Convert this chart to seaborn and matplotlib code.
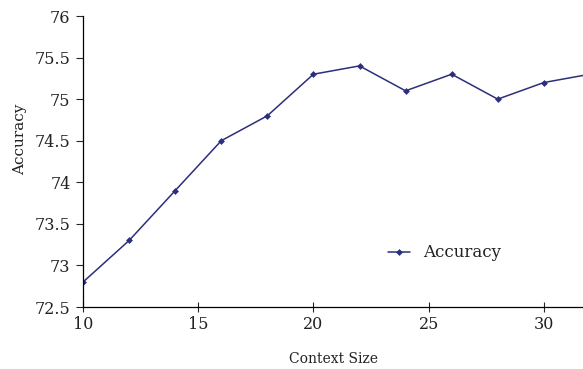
import matplotlib
matplotlib.use("Agg")
import matplotlib.pyplot as plt
import seaborn as sns
import pandas as pd

sns.set_style("white")
plt.rcParams['font.family'] = ['DejaVu Serif', 'Liberation Serif']

context_size = [10, 12, 14, 16, 18, 20, 22, 24, 26, 28, 30, 32]
accuracy = [72.8, 73.3, 73.9, 74.5, 74.8, 75.3, 75.4, 75.1, 75.3, 75.0, 75.2, 75.3]
yticks = [72.5, 73, 73.5, 74, 74.5, 75, 75.5, 76]
ytick_labels = ['72.5', '73', '73.5', '74', '74.5', '75', '75.5', '76']
xticks = [10, 15, 20, 25, 30]

df = pd.DataFrame({'Context Size': context_size, 'Accuracy': accuracy})

fig = plt.figure(figsize=(5.83, 3.69), dpi=100)
ax = fig.add_axes([0.1424, 0.168, 0.8576, 0.7886])
sns.lineplot(data=df, x='Context Size', y='Accuracy', ax=ax, color='#2b2f7c',
             marker='D', markersize=3.5, markeredgewidth=0, linewidth=1.1,
             label='Accuracy')

ax.set_xlim(10, 31.7)
ax.set_ylim(72.5, 76)
ax.set_xticks(xticks)
ax.set_xticklabels([str(t) for t in xticks], fontsize=11.5, color='#222222')
ax.set_yticks(yticks)
ax.set_yticklabels(ytick_labels, fontsize=11.5, color='#222222')
ax.tick_params(axis='y', direction='out', length=5, width=0.8, left=True, pad=4)
ax.tick_params(axis='x', direction='inout', length=7, width=0.8, bottom=True, pad=3)
ax.set_xlabel('Context Size', fontsize=10, labelpad=14, color='#222222')
ax.set_ylabel('Accuracy', fontsize=11, labelpad=5, color='#222222')
ax.yaxis.set_label_coords(-0.112, 0.577)
for s in ['top', 'right']:
    ax.spines[s].set_visible(False)
for s in ['left', 'bottom']:
    ax.spines[s].set_color('black')
    ax.spines[s].set_linewidth(0.9)

ax.legend(loc='center left', bbox_to_anchor=(0.58, 0.186), frameon=False,
          fontsize=12, handlelength=1.3, handletextpad=0.8,
          labelcolor='#222222')

fig.savefig('out.png', dpi=100)
